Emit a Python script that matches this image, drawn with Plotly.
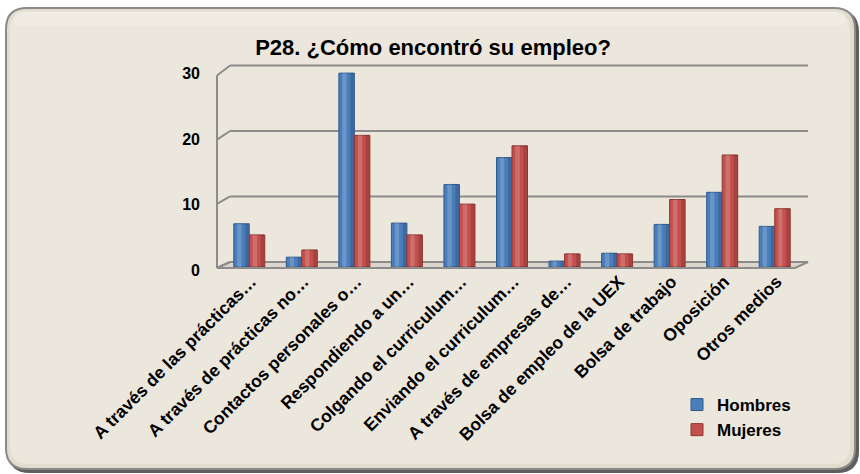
import numpy as np
import plotly.graph_objects as go

# ---- data ---------------------------------------------------------------
categories = [
    "A través de las prácticas…",
    "A través de prácticas no…",
    "Contactos personales o…",
    "Respondiendo a un…",
    "Colgando el curriculum…",
    "Enviando el curriculum…",
    "A través de empresas de…",
    "Bolsa de empleo de la UEX",
    "Bolsa de trabajo",
    "Oposición",
    "Otros medios",
]
hombres = [6.6, 1.5, 29.6, 6.7, 12.6, 16.7, 0.9, 2.1, 6.5, 11.4, 6.2]
mujeres = [4.9, 2.6, 20.1, 4.9, 9.6, 18.5, 2.0, 2.0, 10.3, 17.1, 8.9]
y_ticks = [0, 10, 20, 30]

# ---- layout constants (pixels) -----------------------------------------
W, H = 860, 474
ML, MR, MT, MB = 223, 59, 60, 207
PW, PH = W - ML - MR, H - MT - MB
YMAX = 31.6
PX_PER_UNIT = PH / YMAX

BLUE, BLUE_EDGE = "#4A7EBB", "#2F5A8E"
RED, RED_EDGE = "#C4504D", "#8E3533"
GRID = "#8C8C8C"
PAPER_FILL = "#ECE7DD"

BAR_W = 0.295
x = np.arange(len(categories))


def px(xp):
    """pixel x -> paper x"""
    return (xp - ML) / PW


def py(yp):
    """pixel y -> paper y"""
    return (MT + PH - yp) / PH


def vy(v):
    """value -> pixel y on the mid plane"""
    return MT + PH - v * PX_PER_UNIT


def rounded_rect(x0, y0, x1, y1, r):
    pts = [
        f"M{px(x0 + r)},{py(y0)}",
        f"L{px(x1 - r)},{py(y0)}",
        f"Q{px(x1)},{py(y0)} {px(x1)},{py(y0 + r)}",
        f"L{px(x1)},{py(y1 - r)}",
        f"Q{px(x1)},{py(y1)} {px(x1 - r)},{py(y1)}",
        f"L{px(x0 + r)},{py(y1)}",
        f"Q{px(x0)},{py(y1)} {px(x0)},{py(y1 - r)}",
        f"L{px(x0)},{py(y0 + r)}",
        f"Q{px(x0)},{py(y0)} {px(x0 + r)},{py(y0)}",
        "Z",
    ]
    return " ".join(pts)


shapes = []
# outer frame: shadow, border, panel
shapes.append(dict(type="path", xref="paper", yref="paper", layer="below",
                   path=rounded_rect(8, 10, 859, 473, 22),
                   fillcolor="#5E5E5E", line=dict(width=0)))
shapes.append(dict(type="path", xref="paper", yref="paper", layer="below",
                   path=rounded_rect(5, 7, 856, 470, 22),
                   fillcolor="#8A8A8A", line=dict(width=0)))
shapes.append(dict(type="path", xref="paper", yref="paper", layer="below",
                   path=rounded_rect(7, 9, 854, 468, 20),
                   fillcolor="#E2DCCF", line=dict(width=0)))
shapes.append(dict(type="path", xref="paper", yref="paper", layer="below",
                   path=rounded_rect(10, 12, 850, 464, 18),
                   fillcolor=PAPER_FILL, line=dict(width=0)))
# soft light band along the top of the panel
shapes.append(dict(type="path", xref="paper", yref="paper", layer="below",
                   path=rounded_rect(14, 11, 846, 26, 7),
                   fillcolor="rgba(255,255,255,0.22)", line=dict(width=0)))

# 3-D frame geometry
FRONT_X, BACK_X, BACK_XR, FRONT_XR = 217, 230, 808, 795


def front_y(v):
    return vy(v) + 1 + 4 * v / 30


def back_y(v):
    return vy(v) - 5


# floor
shapes.append(dict(type="path", xref="paper", yref="paper", layer="below",
                   path=(f"M{px(FRONT_X)},{py(front_y(0))} L{px(FRONT_XR)},{py(front_y(0))} "
                         f"L{px(BACK_XR)},{py(back_y(0))} L{px(BACK_X)},{py(back_y(0))} Z"),
                   fillcolor="#DAD6CE", line=dict(color=GRID, width=2)))
# back-wall gridlines and side-wall diagonals
for v in y_ticks:
    shapes.append(dict(type="line", xref="paper", yref="paper", layer="below",
                       x0=px(BACK_X), x1=px(BACK_XR), y0=py(back_y(v)), y1=py(back_y(v)),
                       line=dict(color=GRID, width=2)))
    shapes.append(dict(type="line", xref="paper", yref="paper", layer="below",
                       x0=px(FRONT_X), x1=px(BACK_X), y0=py(front_y(v)), y1=py(back_y(v)),
                       line=dict(color=GRID, width=2)))
# front-left vertical edge
shapes.append(dict(type="line", xref="paper", yref="paper", layer="below",
                   x0=px(FRONT_X), x1=px(FRONT_X), y0=py(front_y(0)), y1=py(front_y(y_ticks[-1])),
                   line=dict(color=GRID, width=2)))

fig = go.Figure()


def cylinder(values, offset, color, edge, name):
    fig.add_trace(go.Bar(
        x=x, y=values, name=name, width=BAR_W, offset=offset,
        marker=dict(color=color, line=dict(color=edge, width=1)),
    ))
    # highlight strip
    fig.add_trace(go.Bar(
        x=x, y=values, width=BAR_W * 0.28, offset=offset + BAR_W * 0.22,
        marker=dict(color="rgba(255,255,255,0.18)", line=dict(width=0)),
        showlegend=False, hoverinfo="skip",
    ))
    # shaded right side
    fig.add_trace(go.Bar(
        x=x, y=values, width=BAR_W * 0.22, offset=offset + BAR_W * 0.74,
        marker=dict(color="rgba(0,0,0,0.16)", line=dict(width=0)),
        showlegend=False, hoverinfo="skip",
    ))


cylinder(hombres, -BAR_W, BLUE, BLUE_EDGE, "Hombres")
cylinder(mujeres, 0.0, RED, RED_EDGE, "Mujeres")

fig.update_layout(
    width=W, height=H,
    margin=dict(l=ML, r=MR, t=MT, b=MB, autoexpand=False),
    paper_bgcolor="white",
    plot_bgcolor="rgba(0,0,0,0)",
    barmode="overlay",
    shapes=shapes,
    font=dict(family="Liberation Sans, Arial, sans-serif", color="black", weight="bold"),
    title=dict(
        text="P28. ¿Cómo encontró su empleo?",
        x=433 / W, xref="container", xanchor="center",
        y=1 - 47 / H, yref="container", yanchor="middle",
        font=dict(size=22, color="black", weight="bold"),
    ),
    xaxis=dict(
        range=[-0.5, len(categories) - 0.5],
        tickvals=list(x), ticktext=categories,
        tickangle=-45, tickfont=dict(size=17.5, weight="bold"),
        showgrid=False, zeroline=False, showline=False, ticks="",
        automargin=False, ticklabelshift=2,
    ),
    yaxis=dict(
        range=[0, YMAX], tickvals=y_ticks, ticktext=[str(t) for t in y_ticks],
        tickfont=dict(size=16, weight="bold"), showgrid=False, zeroline=False, showline=False,
        ticks="", ticklabelstandoff=22, ticklabelshift=3, automargin=False,
    ),
    legend=dict(
        x=px(677), y=py(387),
        xanchor="left", yanchor="top", bgcolor="rgba(0,0,0,0)",
        font=dict(size=17, weight="bold"), itemwidth=30, traceorder="normal",
        tracegroupgap=0,
    ),
    showlegend=True,
)

fig.write_html("out.html")
